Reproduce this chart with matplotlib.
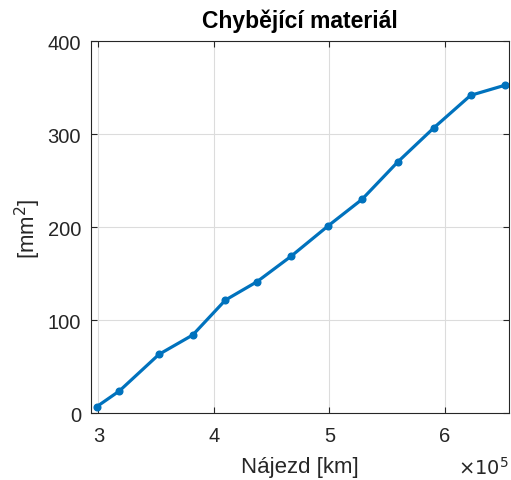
import matplotlib.pyplot as plt
from matplotlib.ticker import FuncFormatter

# Data
najezd_km = [2.986e5, 3.182e5, 3.525e5, 3.817e5, 4.100e5, 4.373e5, 4.667e5,
             4.990e5, 5.281e5, 5.590e5, 5.904e5, 6.221e5, 6.516e5]
chybejici_mm2 = [7.1, 24.0, 63.4, 84.2, 121.8, 141.5, 168.8,
                 201.7, 230.0, 270.2, 307.1, 341.9, 352.7]
x_ticks = [3e5, 4e5, 5e5, 6e5]
y_ticks = [0, 100, 200, 300, 400]

plt.rcParams['font.family'] = ['Liberation Sans', 'DejaVu Sans']
dark = '#262626'

fig = plt.figure(figsize=(5.11, 4.81), dpi=100)
ax = fig.add_axes([0.1775, 0.1387, 0.8192, 0.7733])

ax.plot(najezd_km, chybejici_mm2, color='#0072BD', linewidth=2.3,
        marker='o', markersize=4.8)

ax.set_xlim(2.934e5, 6.556e5)
ax.set_ylim(0, 400)
ax.set_xticks(x_ticks)
ax.set_yticks(y_ticks)
ax.xaxis.set_major_formatter(FuncFormatter(lambda v, _: f"{v / 1e5:g}"))

ax.grid(True, color='#dcdcdc', linewidth=0.8)
ax.set_axisbelow(True)
for s in ax.spines.values():
    s.set_color(dark)
    s.set_linewidth(0.8)
ax.tick_params(direction='in', length=4, width=0.8, colors=dark,
               labelsize=14.5, top=True, right=True)
ax.tick_params(axis='x', pad=9)
ax.tick_params(axis='y', pad=7)

ax.set_title('Chybějící materiál', fontsize=16.5, fontweight='bold', pad=10)
ax.set_xlabel('Nájezd [km]', fontsize=16, color=dark, labelpad=8)
ax.set_ylabel('[mm$^2$]', fontsize=16, color=dark, labelpad=3)
ax.text(1.0, -0.115, r'$\times10^5$', transform=ax.transAxes,
        ha='right', va='top', fontsize=14, color=dark)

fig.savefig('out.png', dpi=100)
